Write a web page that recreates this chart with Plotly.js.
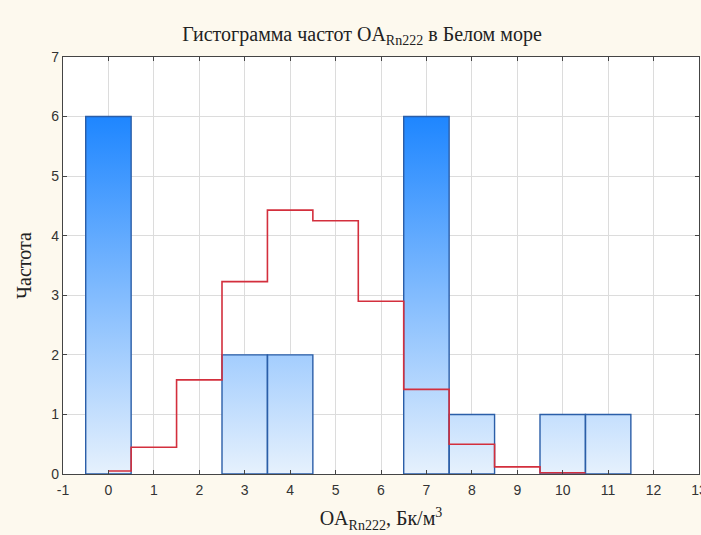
<!DOCTYPE html>
<html>
<head>
<meta charset="utf-8">
<script src="https://cdn.plot.ly/plotly-3.0.1.min.js"></script>
<style>
  html, body { margin: 0; padding: 0; background: #fdf9ee; }
  #chart { width: 701px; height: 535px; }
</style>
</head>
<body>
<div id="chart"></div>
<script>
// Bin centres (OA Rn222, Bq/m3) and observed counts per bin
const binCenters = [0, 1, 2, 3, 4, 5, 6, 7, 8, 9, 10, 11];
const counts     = [6, 0, 0, 2, 2, 0, 0, 6, 1, 0, 1, 1];
const binWidth = 1;

// Expected frequencies of the fitted normal curve (step line)
const expectedX = [0, 0.5, 1.5, 2.5, 3.5, 4.5, 5.5, 6.5, 7.5, 8.5, 9.5, 10.5];
const expectedY = [0.05, 0.45, 1.58, 3.23, 4.43, 4.25, 2.9, 1.42, 0.5, 0.12, 0.02, 0.02];

const xTicks = [-1, 0, 1, 2, 3, 4, 5, 6, 7, 8, 9, 10, 11, 12, 13];
const yTicks = [0, 1, 2, 3, 4, 5, 6, 7];

// Build closed rectangles for every non-empty bin, separated by gaps,
// so each bar gets its own gradient-filled shape.
const barX = [], barY = [];
binCenters.forEach((c, i) => {
  if (counts[i] <= 0) return;
  const l = c - binWidth / 2, r = c + binWidth / 2;
  barX.push(l, l, r, r, l, null);
  barY.push(0, counts[i], counts[i], 0, 0, null);
});

const bars = {
  type: 'scatter',
  mode: 'lines',
  x: barX,
  y: barY,
  fill: 'toself',
  fillgradient: {
    type: 'vertical',
    start: 0,
    stop: Math.max(...counts),
    colorscale: [[0, '#e6f1fd'], [1, '#1e86ff']]
  },
  line: { color: '#2b5ea8', width: 1.4 },
  connectgaps: false,
  hoverinfo: 'skip',
  showlegend: false
};

const expected = {
  type: 'scatter',
  mode: 'lines',
  x: expectedX,
  y: expectedY,
  line: { color: '#d32f3d', width: 1.6, shape: 'hv' },
  showlegend: false
};

const serif = 'Liberation Serif, Times New Roman, serif';

const axisCommon = {
  showgrid: true,
  gridcolor: '#dcdcdc',
  gridwidth: 1,
  zeroline: false,
  showline: true,
  linecolor: '#444',
  linewidth: 1.2,
  mirror: 'ticks',
  ticks: 'inside',
  ticklen: 4,
  tickcolor: '#444',
  ticklabeloverflow: 'allow',
  tickfont: { family: 'Liberation Sans, Arial, sans-serif', size: 14, color: '#333' }
};

const layout = {
  width: 701,
  height: 535,
  paper_bgcolor: '#fdf9ee',
  plot_bgcolor: '#ffffff',
  margin: { l: 63, r: 2, t: 57, b: 61 },
  title: {
    text: 'Гистограмма частот OA<sub>Rn222</sub> в Белом море',
    font: { family: serif, size: 20, color: '#222' },
    x: 362 / 701,
    xanchor: 'center',
    y: 1 - 34 / 535,
    yanchor: 'middle'
  },
  xaxis: Object.assign({}, axisCommon, {
    range: [-1, 13],
    tickvals: xTicks,
    ticktext: xTicks.map(String),
    ticklabelstandoff: 3,
    title: {
      text: 'OA<sub>Rn222</sub>, Бк/м<sup>3</sup>',
      font: { family: serif, size: 20, color: '#222' },
      standoff: 14
    }
  }),
  yaxis: Object.assign({}, axisCommon, {
    range: [0, 7],
    tickvals: yTicks,
    title: {
      text: 'Частота',
      font: { family: serif, size: 20, color: '#222' },
      standoff: 14
    }
  })
};

Plotly.newPlot('chart', [bars, expected], layout, { displayModeBar: false, staticPlot: true });
</script>
</body>
</html>
